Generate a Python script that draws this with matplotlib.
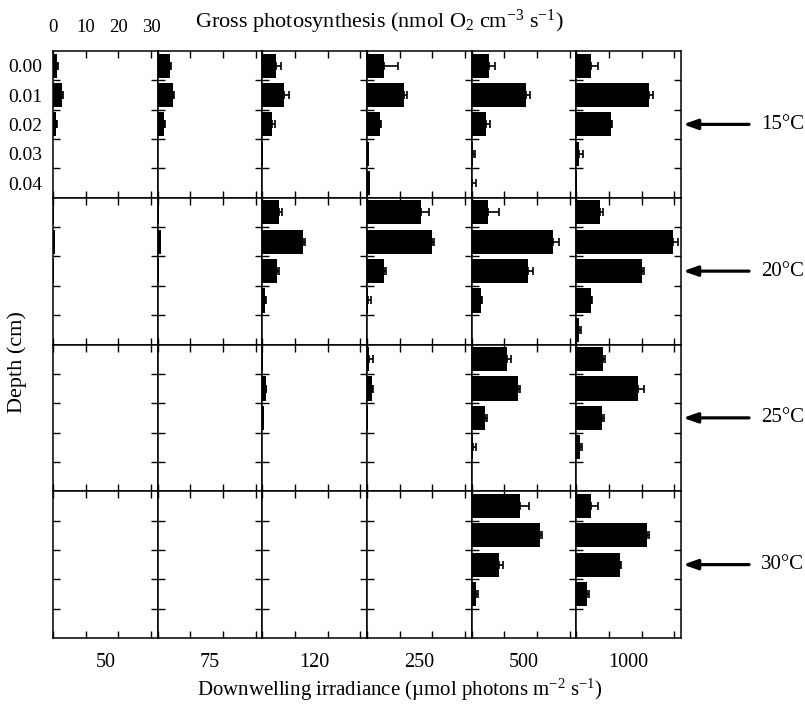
import numpy as np
import matplotlib
matplotlib.use("Agg")
import matplotlib.pyplot as plt

plt.rcParams['font.family'] = ['Liberation Serif', 'DejaVu Serif']
plt.rcParams['mathtext.fontset'] = 'custom'
plt.rcParams['mathtext.rm'] = 'Liberation Serif'
plt.rcParams['mathtext.it'] = 'Liberation Serif:italic'

# ---- data ----
depths = [0.00, 0.01, 0.02, 0.03, 0.04]
depth_labels = ["0.00", "0.01", "0.02", "0.03", "0.04"]
irradiance_labels = ["50", "75", "120", "250", "500", "1000"]
temperature_labels = ["15°C", "20°C", "25°C", "30°C"]
x_ticks = [0, 10, 20, 30]

# gross photosynthesis per irradiance (rows) and depth (cols)
gp_15 = [[1.2, 2.7, 0.9, 0.0, 0.0],
         [3.7, 4.8, 1.8, 0.0, 0.0],
         [4.3, 6.6, 3.1, 0.3, 0.0],
         [5.3, 11.4, 4.0, 0.5, 0.8],
         [5.2, 16.6, 4.4, 0.4, 0.2],
         [4.6, 22.3, 10.5, 0.9, 0.3]]
err_15 = [[0.4, 0.3, 0.3, 0.0, 0.0],
          [0.4, 0.3, 0.4, 0.0, 0.0],
          [1.4, 1.4, 0.7, 0.0, 0.0],
          [4.2, 0.9, 0.4, 0.0, 0.0],
          [1.8, 1.2, 1.2, 0.6, 1.0],
          [1.9, 1.2, 0.5, 1.0, 0.0]]

gp_20 = [[0.2, 0.6, 0.2, 0.0, 0.0],
         [0.3, 1.0, 0.3, 0.2, 0.0],
         [5.1, 12.3, 4.4, 0.8, 0.0],
         [16.5, 19.8, 5.2, 0.4, 0.0],
         [5.0, 24.9, 17.1, 2.9, 0.0],
         [7.3, 29.6, 20.0, 4.6, 0.8]]
err_20 = [[0.0, 0.0, 0.0, 0.0, 0.0],
          [0.0, 0.0, 0.0, 0.0, 0.0],
          [1.0, 0.6, 0.6, 0.2, 0.0],
          [2.6, 0.8, 0.6, 0.8, 0.0],
          [3.5, 1.9, 1.8, 0.4, 0.0],
          [0.9, 1.4, 0.6, 0.3, 0.6]]

gp_25 = [[0.0, 0.0, 0.0, 0.0, 0.0],
         [0.0, 0.0, 0.0, 0.0, 0.0],
         [0.1, 1.0, 0.6, 0.0, 0.0],
         [0.7, 1.6, 0.4, 0.0, 0.0],
         [10.9, 14.1, 4.0, 0.4, 0.0],
         [8.2, 18.8, 7.8, 1.2, 0.0]]
err_25 = [[0.0, 0.0, 0.0, 0.0, 0.0],
          [0.0, 0.0, 0.0, 0.0, 0.0],
          [0.0, 0.2, 0.0, 0.0, 0.0],
          [1.0, 0.2, 0.0, 0.0, 0.0],
          [1.2, 0.8, 0.6, 0.9, 0.0],
          [0.7, 2.0, 0.7, 0.5, 0.0]]

gp_30 = [[0.0, 0.0, 0.0, 0.0, 0.0],
         [0.0, 0.0, 0.0, 0.0, 0.0],
         [0.0, 0.0, 0.0, 0.0, 0.0],
         [0.0, 0.0, 0.0, 0.0, 0.0],
         [14.9, 20.8, 8.5, 1.3, 0.0],
         [4.4, 21.5, 13.2, 3.3, 0.0]]
err_30 = [[0.0, 0.0, 0.0, 0.0, 0.0],
          [0.0, 0.0, 0.0, 0.0, 0.0],
          [0.0, 0.0, 0.0, 0.0, 0.0],
          [0.0, 0.0, 0.0, 0.0, 0.0],
          [2.5, 0.6, 1.1, 0.5, 0.0],
          [2.1, 0.6, 0.6, 0.5, 0.0]]

all_gp = [gp_15, gp_20, gp_25, gp_30]
all_err = [err_15, err_20, err_25, err_30]

# ---- figure ----
W, H = 805, 707
fig = plt.figure(figsize=(W / 100, H / 100), dpi=100)
gs = fig.add_gridspec(4, 6, left=53 / W, right=681 / W,
                      top=1 - 51 / H, bottom=1 - 638 / H,
                      wspace=0, hspace=0)

d = np.array(depths)
bounds = (d[:-1] + d[1:]) / 2

for r in range(4):
    for c in range(6):
        ax = fig.add_subplot(gs[r, c])
        vals = np.array(all_gp[r][c])
        errs = np.array(all_err[r][c])
        ax.barh(d, vals, height=0.0082, color='black', linewidth=0)
        m = errs > 0
        if m.any():
            ax.errorbar(vals[m], d[m], xerr=[np.zeros(m.sum()), errs[m]],
                        fmt='none', ecolor='black', elinewidth=1.2,
                        capsize=2.6, capthick=1.2)
        ax.set_xlim(0, 32)
        ax.set_ylim(0.045, -0.005)
        for s in ax.spines.values():
            s.set_linewidth(1.1)
        ax.set_xticks(x_ticks)
        ax.set_yticks(bounds)
        ax.tick_params(axis='both', which='major', direction='in', length=5,
                       width=1.0, top=True, bottom=True, left=True, right=True,
                       labelleft=False, labelbottom=False, labeltop=False)
        if r == 0 and c == 0:
            ax.tick_params(axis='x', labeltop=True, labelsize=13.5, pad=10.5)
            ax.set_yticks(d, minor=True)
            ax.set_yticklabels(depth_labels, minor=True)
            ax.tick_params(axis='y', which='minor', length=0, labelleft=True,
                           labelsize=14, pad=8)
        else:
            ax.set_yticks([], minor=True)
        if r == 3:
            ax.text(0.5, -0.165, irradiance_labels[c], transform=ax.transAxes,
                    ha='center', va='center', fontsize=14.5)
        if c == 5:
            ax.annotate('', xy=(1.02, 0.5), xytext=(1.65, 0.5),
                        xycoords='axes fraction', textcoords='axes fraction',
                        arrowprops=dict(arrowstyle='-|>,head_length=0.85,head_width=0.3',
                                        color='black', lw=2.3,
                                        shrinkA=0, shrinkB=0),
                        annotation_clip=False)
            ax.text(1.765, 0.5, temperature_labels[r], transform=ax.transAxes,
                    ha='left', va='center', fontsize=15)

fig.text(379 / W, 1 - 22 / H, 'Gross photosynthesis (nmol O$_2$ cm$^{-3}$ s$^{-1}$)',
         ha='center', va='center', fontsize=16)
fig.text(400 / W, 1 - 690 / H,
         'Downwelling irradiance (µmol photons m$^{-2}$ s$^{-1}$)',
         ha='center', va='center', fontsize=15)
fig.text(17 / W, 1 - 362 / H, 'Depth (cm)', rotation=90,
         ha='center', va='center', fontsize=16)

fig.savefig('out.png', dpi=100, facecolor='white')
